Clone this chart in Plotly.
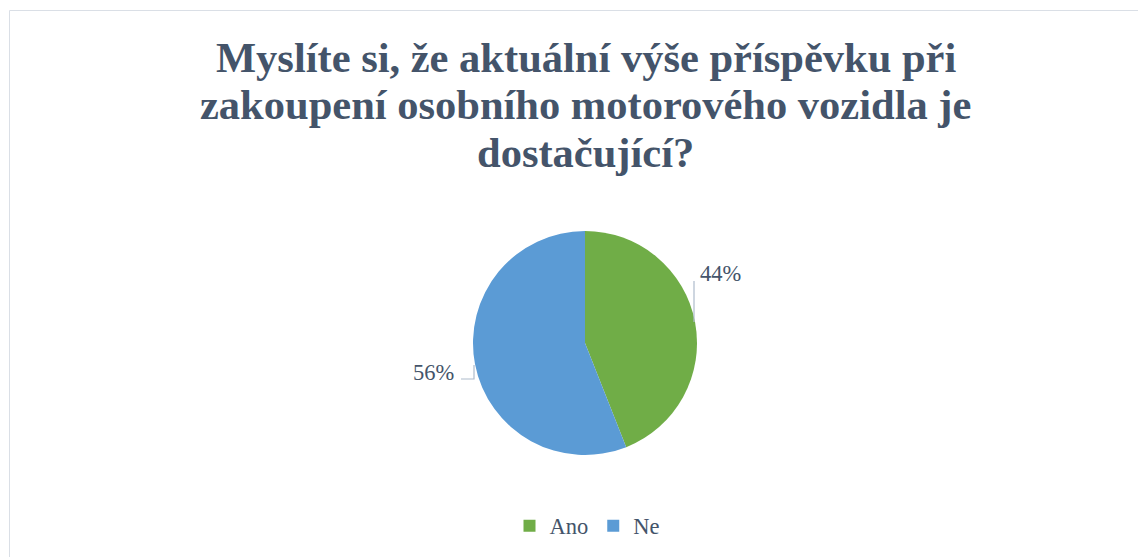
import plotly.graph_objects as go

categories = ["Ano", "Ne"]
values = [44, 56]
colors = ["#70AD47", "#5B9BD5"]
title_lines = [
    "Myslíte si, že aktuální výše příspěvku při",
    "zakoupení osobního motorového vozidla je",
    "dostačující?",
]

# the page body adds an 8px margin; size and place everything to compensate
OFF = 8
W, H = 1146 - OFF, 557 - OFF
TEXT = "#44546A"
SERIF = "Liberation Serif, Times New Roman, serif"

def px(x):
    return (x - OFF) / W

def py(y):
    return 1 - (y - OFF) / H

cx, cy, r = 585, 343, 112

fig = go.Figure(go.Pie(
    labels=categories,
    values=values,
    sort=False,
    direction="clockwise",
    rotation=0,
    marker=dict(colors=colors, line=dict(width=0)),
    textinfo="none",
    hoverinfo="label+percent",
    domain=dict(x=[px(cx - r), px(cx + r)], y=[py(cy + r), py(cy - r)]),
))

annotations = []
for line, ym in zip(title_lines, [57, 104.5, 152]):
    annotations.append(dict(
        text=line, x=px(585.5), y=py(ym), xref="paper", yref="paper",
        xanchor="center", yanchor="middle", showarrow=False,
        font=dict(family=SERIF, size=42.5, color=TEXT, weight="bold"),
    ))

# data labels (text from values)
total = sum(values)
label_pos = [(720, 273), (433, 372)]
for v, (lx, ly) in zip(values, label_pos):
    annotations.append(dict(
        text=f"{round(100 * v / total)}%", x=px(lx), y=py(ly),
        xref="paper", yref="paper", xanchor="center", yanchor="middle",
        showarrow=False, font=dict(family=SERIF, size=22.5, color=TEXT),
    ))

leader = dict(color="#AEBBCB", width=1.2)
shapes = [
    # chart border
    dict(type="rect", xref="paper", yref="paper", x0=px(9.5), x1=px(1145.5),
         y0=py(565), y1=py(10.5), line=dict(color="#DADFE6", width=1)),
    # leader lines
    dict(type="line", xref="paper", yref="paper", x0=px(694), x1=px(694),
         y0=py(281), y1=py(322), line=leader),
    dict(type="path", xref="paper", yref="paper",
         path=f"M{px(461)},{py(379)} L{px(474)},{py(379)} L{px(474)},{py(365)}",
         line=leader),
]

fig.update_layout(
    width=W, height=H,
    margin=dict(l=0, r=0, t=0, b=0),
    paper_bgcolor="white", plot_bgcolor="white",
    showlegend=True,
    legend=dict(orientation="h", x=px(587), y=py(526), xanchor="center",
                yanchor="middle", font=dict(family=SERIF, size=22.5, color=TEXT),
                bgcolor="rgba(0,0,0,0)"),
    annotations=annotations,
    shapes=shapes,
)

fig.write_html("out.html")
